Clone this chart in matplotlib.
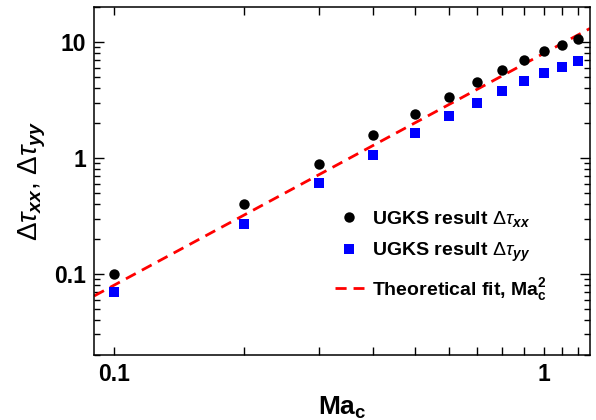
import matplotlib
matplotlib.use("Agg")
import matplotlib.pyplot as plt
import numpy as np
from matplotlib.ticker import LogLocator, FixedLocator, FixedFormatter, NullFormatter

plt.rcParams['font.family'] = ['Liberation Sans', 'DejaVu Sans']
plt.rcParams['mathtext.fontset'] = 'custom'
plt.rcParams['mathtext.rm'] = 'Liberation Sans'
plt.rcParams['mathtext.it'] = 'Liberation Sans:italic'
plt.rcParams['mathtext.bf'] = 'Liberation Sans:bold'
plt.rcParams['mathtext.bfit'] = 'Liberation Sans:italic:bold'

mach = [0.1, 0.2, 0.3, 0.4, 0.5, 0.6, 0.7, 0.8, 0.9, 1.0, 1.1, 1.2]
tau_xx = [0.100, 0.40, 0.895, 1.57, 2.41, 3.38, 4.51, 5.72, 6.97, 8.33, 9.52, 10.7]
tau_yy = [0.0695, 0.272, 0.614, 1.07, 1.63, 2.29, 3.00, 3.77, 4.57, 5.36, 6.15, 6.89]
fit_coef = 8.0
x_range = [0.0898, 1.28]
y_range = [0.02, 20]

fig = plt.figure(figsize=(5.96, 4.2), dpi=100)
ax = fig.add_axes([0.158, 0.155, 0.832, 0.828])

xf = np.array(x_range)
ax.plot(xf, fit_coef * xf**2, color='#ff0000', ls=(0, (4, 2.5)), lw=2.0,
        label=r'Theoretical fit, $\mathbf{Ma}_\mathbf{c}^\mathbf{2}$', zorder=2)
ax.plot(mach, tau_xx, 'o', color='black', ms=7.5, mew=0,
        label=r'UGKS result $\mathit{\Delta\tau}_{\mathbfit{xx}}$', zorder=3)
ax.plot(mach, tau_yy, 's', color='#0000ff', ms=6.5, mew=0,
        label=r'UGKS result $\mathit{\Delta\tau}_{\mathbfit{yy}}$', zorder=3)

ax.set_xscale('log')
ax.set_yscale('log')
ax.set_xlim(*x_range)
ax.set_ylim(*y_range)

ax.xaxis.set_major_locator(FixedLocator([0.1, 1]))
ax.xaxis.set_major_formatter(FixedFormatter(['0.1', '1']))
ax.xaxis.set_minor_locator(FixedLocator([0.2, 0.3, 0.4, 0.5, 0.6, 0.7, 0.8, 0.9, 1.1, 1.2]))
ax.xaxis.set_minor_formatter(NullFormatter())
ax.yaxis.set_major_locator(FixedLocator([0.1, 1, 10]))
ax.yaxis.set_major_formatter(FixedFormatter(['0.1', '1', '10']))
ax.yaxis.set_minor_locator(LogLocator(base=10, subs=np.arange(2, 10), numticks=20))
ax.yaxis.set_minor_formatter(NullFormatter())

ax.tick_params(which='both', direction='in', top=True, right=True, width=1.0)
ax.tick_params(axis='x', which='both', length=6)
ax.tick_params(axis='y', which='major', length=7)
ax.tick_params(axis='y', which='minor', length=4)
ax.tick_params(axis='both', which='major', labelsize=16.5, pad=6)
for lab in ax.get_xticklabels() + ax.get_yticklabels():
    lab.set_fontweight('bold')
for s in ax.spines.values():
    s.set_linewidth(1.1)

ax.set_xlabel(r'$\mathbf{Ma}_\mathbf{c}$', fontsize=19, labelpad=6)
ax.set_ylabel(r'$\mathit{\Delta\tau}_{\mathbfit{xx}}$, $\mathit{\Delta\tau}_{\mathbfit{yy}}$',
              fontsize=20, labelpad=4)

h, l = ax.get_legend_handles_labels()
order = [1, 2, 0]
leg = ax.legend([h[i] for i in order], [l[i] for i in order],
                loc='lower left', bbox_to_anchor=(0.45, 0.10), frameon=False,
                fontsize=14, handlelength=1.5, handletextpad=0.4, labelspacing=0.6)
for t in leg.get_texts():
    t.set_fontweight('bold')

fig.savefig('out.png', dpi=100)
